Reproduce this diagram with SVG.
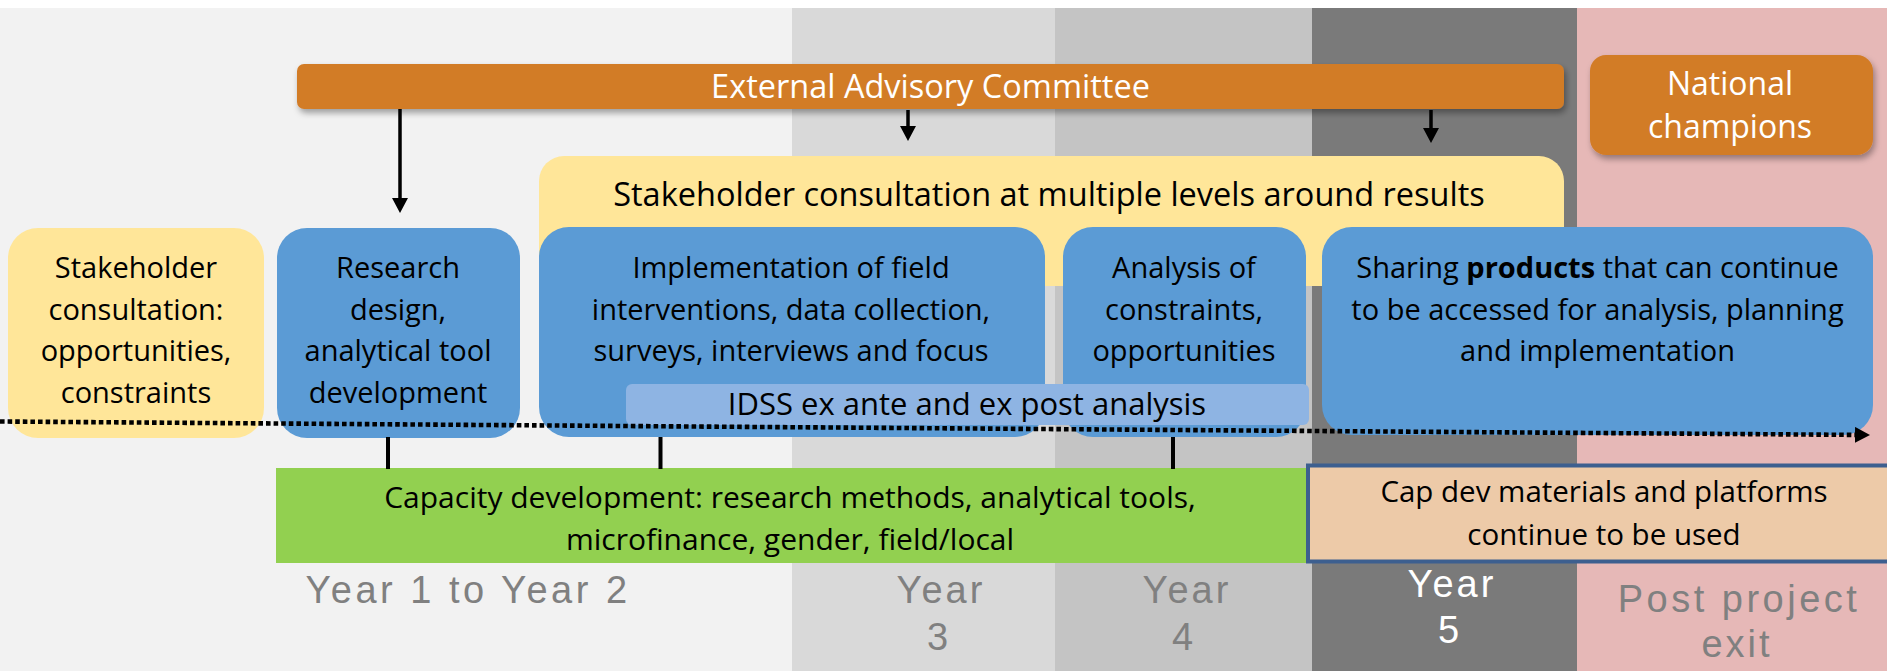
<svg xmlns="http://www.w3.org/2000/svg" width="1887" height="671" viewBox="0 0 1887 671">
<style>
.t{font-family:"Open Sans","Noto Sans","Liberation Sans",sans-serif;fill:#000;text-anchor:middle}
.box{font-size:29px}
.big{font-size:32.5px}
.w{fill:#fff}
.yr{font-family:"Liberation Sans",Arial,sans-serif;font-size:38px;fill:#808080;text-anchor:middle;letter-spacing:3px}
.blue{fill:#5b9bd5}
.yel{fill:#ffe699}
.orange{fill:#d27c28}
.conn{stroke:#000;fill:none}
</style>
<defs>
<filter id="sh" x="-10%" y="-30%" width="120%" height="180%">
<feDropShadow dx="2" dy="4" stdDeviation="3" flood-color="#000" flood-opacity="0.35"/>
</filter>
<marker id="ah" markerUnits="userSpaceOnUse" viewBox="0 0 15 16" markerWidth="15" markerHeight="16" refX="2" refY="8" orient="auto">
<path d="M0,0 L15,8 L0,16 Z" fill="#000"/>
</marker>
</defs>

<g id="background">
<rect x="0" y="0" width="1887" height="671" fill="#fff"/>
<rect x="0" y="8" width="792" height="663" fill="#f2f2f2"/>
<rect x="792" y="8" width="263" height="663" fill="#d9d9d9"/>
<rect x="1055" y="8" width="257" height="663" fill="#c4c4c4"/>
<rect x="1312" y="8" width="265" height="663" fill="#7a7a7a"/>
<rect x="1577" y="8" width="310" height="663" fill="#e6b8b7"/>
</g>

<g id="external-advisory-committee">
<rect class="orange" x="297" y="64" width="1267" height="45" rx="7" filter="url(#sh)"/>
<text class="t big w" x="930.5" y="98">External Advisory Committee</text>
</g>

<g id="national-champions">
<rect class="orange" x="1590" y="55" width="283" height="100" rx="16" filter="url(#sh)"/>
<text class="t w" style="font-size:32px" x="1730" y="95">National</text>
<text class="t w" style="font-size:32px" x="1730" y="138">champions</text>
</g>

<g id="stakeholder-multilevel">
<path class="yel" d="M539,286 V181 A25,25 0 0 1 564,156 H1539 A25,25 0 0 1 1564,181 V286 Z"/>
<text class="t big" x="1049" y="206">Stakeholder consultation at multiple levels around results</text>
</g>

<g id="stakeholder-initial">
<rect class="yel" x="8" y="228" width="256" height="210" rx="30"/>
<text class="t box" x="136" y="277.5">Stakeholder</text>
<text class="t box" x="136" y="319.5">consultation:</text>
<text class="t box" x="136" y="361">opportunities,</text>
<text class="t box" x="136" y="403">constraints</text>
</g>

<g id="research-design">
<rect class="blue" x="277" y="228" width="243" height="210" rx="30"/>
<text class="t box" x="398" y="277.5">Research</text>
<text class="t box" x="398" y="319.5">design,</text>
<text class="t box" x="398" y="361">analytical tool</text>
<text class="t box" x="398" y="403">development</text>
</g>

<g id="implementation">
<rect class="blue" x="539" y="227" width="506" height="210" rx="30"/>
<text class="t box" x="791" y="277.5">Implementation of field</text>
<text class="t box" x="791" y="319.5">interventions, data collection,</text>
<text class="t box" x="791" y="361">surveys, interviews and focus</text>
</g>

<g id="analysis">
<rect class="blue" x="1063" y="227" width="243" height="210" rx="30"/>
<text class="t box" x="1184" y="277.5">Analysis of</text>
<text class="t box" x="1184" y="319.5">constraints,</text>
<text class="t box" x="1184" y="361">opportunities</text>
</g>

<g id="sharing-products">
<rect class="blue" x="1322" y="227" width="551" height="208" rx="30"/>
<text class="t box" x="1597.5" y="277.5">Sharing <tspan font-weight="bold">products</tspan> that can continue</text>
<text class="t box" x="1597.5" y="319.5">to be accessed for analysis, planning</text>
<text class="t box" x="1597.5" y="361">and implementation</text>
</g>

<g id="idss">
<rect x="626" y="384" width="683" height="41" rx="6" fill="#8eb4e3"/>
<text class="t" style="font-size:31px" x="967" y="415">IDSS ex ante and ex post analysis</text>
</g>

<g id="capacity-development">
<rect x="276" y="468" width="1031" height="95" fill="#92d050"/>
<text class="t" style="font-size:30px" x="790" y="508">Capacity development: research methods, analytical tools,</text>
<text class="t" style="font-size:30px" x="790" y="549.5">microfinance, gender, field/local</text>
</g>

<g id="cap-dev-materials">
<rect x="1308" y="465.5" width="600" height="96" fill="#edcaa8" stroke="#3d5f8f" stroke-width="4"/>
<text class="t" style="font-size:29.5px" x="1604" y="502">Cap dev materials and platforms</text>
<text class="t" style="font-size:29.5px" x="1604" y="545">continue to be used</text>
</g>

<g id="year-labels">
<text class="yr" x="468" y="603" style="letter-spacing:3.5px">Year 1 to Year 2</text>
<text class="yr" x="941" y="603">Year</text>
<text class="yr" x="939" y="650">3</text>
<text class="yr" x="1187" y="603">Year</text>
<text class="yr" x="1184" y="650">4</text>
<text class="yr" x="1452" y="597" style="fill:#fff">Year</text>
<text class="yr" x="1450" y="643" style="fill:#fff">5</text>
<text class="yr" x="1739" y="611.5" style="letter-spacing:3.5px">Post project</text>
<text class="yr" x="1737" y="656.5">exit</text>
</g>

<g id="connectors">
<line class="conn" x1="400" y1="109" x2="400" y2="200" stroke-width="3.5" marker-end="url(#ah)"/>
<line class="conn" x1="908" y1="110" x2="908" y2="128" stroke-width="3.5" marker-end="url(#ah)"/>
<line class="conn" x1="1431" y1="110" x2="1431" y2="130" stroke-width="3.5" marker-end="url(#ah)"/>
<line class="conn" x1="388" y1="437" x2="388" y2="469" stroke-width="4"/>
<line class="conn" x1="660.5" y1="437" x2="660.5" y2="469" stroke-width="4"/>
<line class="conn" x1="1173" y1="437" x2="1173" y2="469" stroke-width="4"/>
<line class="conn" x1="0" y1="421.5" x2="1857" y2="434.9" stroke-width="4.6" stroke-dasharray="4.6 3" marker-end="url(#ah)"/>
</g>
</svg>
